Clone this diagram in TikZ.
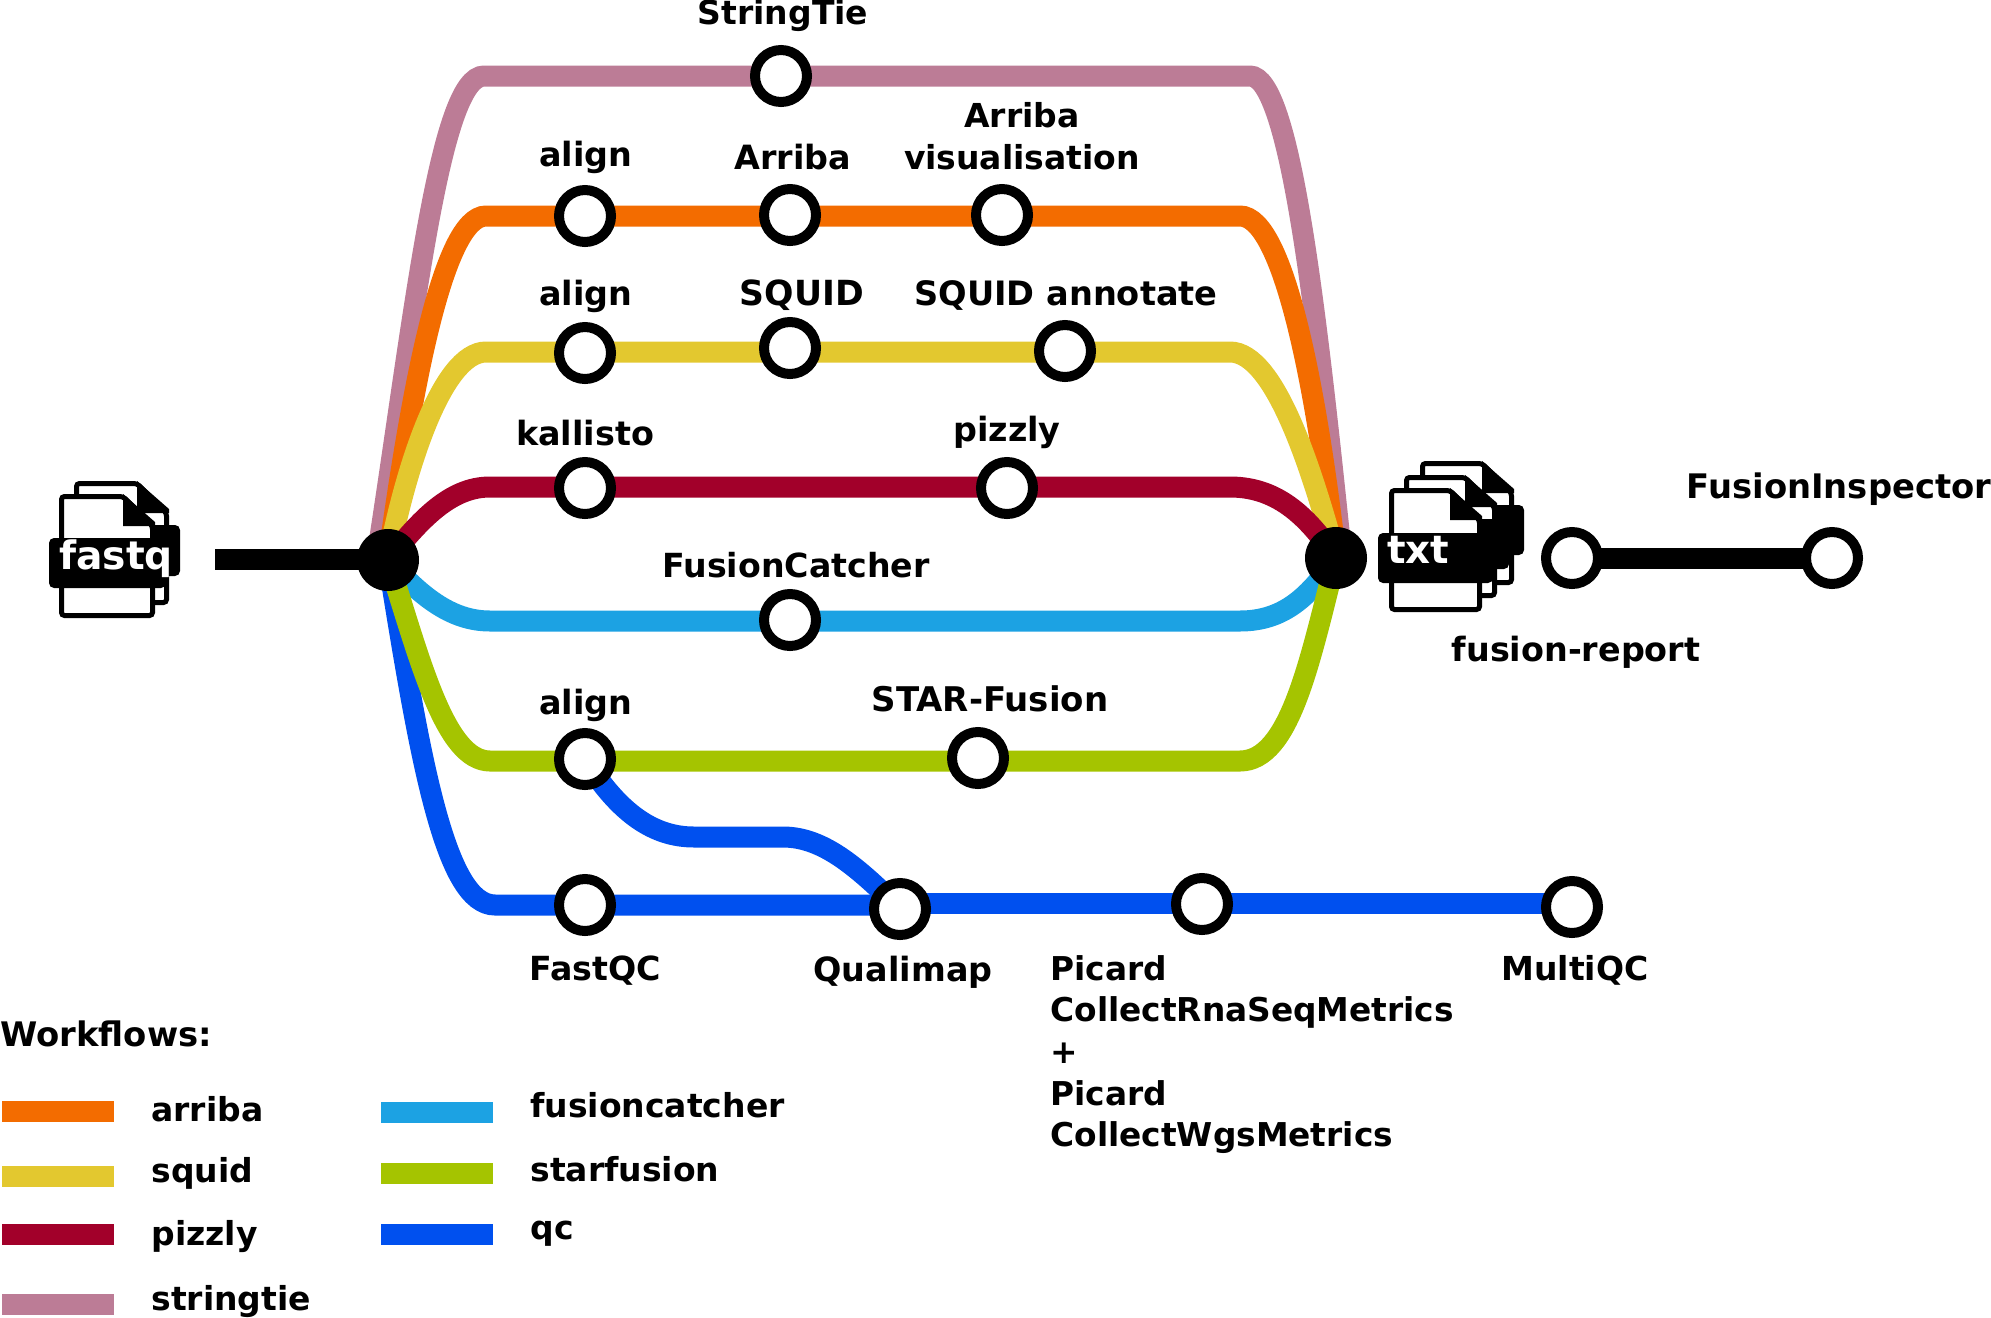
\documentclass[tikz,border=0pt]{standalone}
\usepackage{fontspec}
\setmainfont{DejaVu Sans}
\pgfdeclarelayer{lines}
\pgfsetlayers{lines,main}
\definecolor{cstring}{HTML}{BC7C96}
\definecolor{carriba}{HTML}{F36C00}
\definecolor{csquid}{HTML}{E3C82F}
\definecolor{cpizzly}{HTML}{A2002A}
\definecolor{cfc}{HTML}{1CA2E3}
\definecolor{cstar}{HTML}{A5C400}
\definecolor{cqc}{HTML}{0050EF}
\newcommand{\docpage}[5]{% name, left, top, right, bottom (outer)
  \coordinate (#1) at (#2,#3);
  \draw[pageline] (#2+2.5,#3+2.5) -- (#4-32,#3+2.5) -- (#4-2.5,#3+32) -- (#4-2.5,#5-2.5) -- (#2+2.5,#5-2.5) -- cycle;
  \fill (#4-32,#3) -- (#4,#3+28) -- (#4,#3+32) -- (#4-32,#3+32) -- cycle;
}
\tikzset{
  x=0.5pt,y=-0.5pt,
  metro/.style={line width=10.5pt},
  station/.style={circle,draw=black,fill=white,line width=5pt,minimum size=26pt,inner sep=0pt},
  junction/.style={circle,fill=black,minimum size=31pt,inner sep=0pt},
  lbl/.style={font=\fontsize{16.7}{21}\selectfont\bfseries,inner sep=0pt,anchor=base,text=black},
  lblw/.style={lbl,anchor=base west},
  legendlbl/.style={lblw,font=\fontsize{16.5}{21}\selectfont\bfseries},
  filelbl/.style={font=\fontsize{19.4}{21}\selectfont\bfseries,inner sep=0pt,anchor=base west,text=white},
  pageline/.style={draw=black,fill=white,line width=2.5pt,rounded corners=1.5pt},
  band/.style={fill=black,rounded corners=2.5pt},
}
\begin{document}
\begin{tikzpicture}
\useasboundingbox (0,0) rectangle (1991,1317);
% junctions and stations
\node[junction] (jl) at (388,560) {};
\node[junction] (jr) at (1336,558) {};
\coordinate (jlp) at (378,550);
\coordinate (jrp) at (1340,540);
\node[station] (stringtie) at (781,76) {};
\node[station] (align1) at (585,216) {};
\node[station] (arriba) at (790,215) {};
\node[station] (arribavis) at (1002,215) {};
\node[station] (align2) at (585,353) {};
\node[station] (squid) at (790,348) {};
\node[station] (squidann) at (1065,351) {};
\node[station] (kallisto) at (585,488) {};
\node[station] (pizzly) at (1007,488) {};
\node[station] (fcatch) at (790,620) {};
\node[station] (align3) at (585,759) {};
\node[station] (starf) at (978,758) {};
\node[station] (fastqc) at (585,905) {};
\node[station] (qualimap) at (900,909) {};
\node[station] (picard) at (1202,904) {};
\node[station] (multiqc) at (1572,907) {};
\node[station] (freport) at (1572,558) {};
\node[station] (finsp) at (1832,558) {};
\coordinate (bar) at (215,559);
\begin{pgfonlayer}{lines}
\draw[metro,cstring] (jlp) .. controls (415,310) and (440,76) .. (484,76) -- (1250,76) .. controls (1290,76) and (1316,310) .. (jrp);
\draw[metro,carriba] (jl.center) .. controls (410,400) and (442,216) .. (486,216) -- (1240,216) .. controls (1285,216) and (1318,400) .. (jr.center);
\draw[metro,csquid] (jl.center) .. controls (405,470) and (442,352) .. (486,352) -- (1230,352) .. controls (1275,352) and (1312,470) .. (jr.center);
\draw[metro,cpizzly] (jl.center) .. controls (420,520) and (450,487) .. (490,487) -- (1230,487) .. controls (1280,487) and (1310,520) .. (jr.center);
\draw[metro,cfc] (jl.center) .. controls (420,595) and (450,621) .. (490,621) -- (1240,621) .. controls (1285,621) and (1310,595) .. (jr.center);
\draw[metro,cqc] (jl.center) .. controls (420,760) and (445,905) .. (495,905) -- (qualimap.center |- fastqc.center) -- (qualimap.center);
\draw[metro,cqc] (qualimap.center) -- (900,903) -- (1572,903) -- (multiqc.center);
\draw[metro,cqc] (align3.center) .. controls (620,815) and (655,837) .. (694,837) -- (783,837) .. controls (825,837) and (860,870) .. (qualimap.center);
\draw[metro,cstar] (jl.center) .. controls (420,660) and (445,761) .. (490,761) -- (1240,761) .. controls (1290,761) and (1310,660) .. (jr.center);
\draw[metro,black] (bar) -- (jl.center |- bar);
\draw[metro,black] (freport.center) -- (finsp.center);
\end{pgfonlayer}
% labels
\node[lbl,font=\fontsize{16.5}{21}\selectfont\bfseries] (l1) at (783,25) {StringTie};
\node[lbl] (l2) at (586,166) {align};
\node[lbl] (l3) at (793,169) {Arriba};
\node[lbl,align=center,anchor=north,font=\fontsize{16.5}{21}\selectfont\bfseries] (l4) at (1022,102) {Arriba\\visualisation};
\node[lbl] (l5) at (586,305) {align};
\node[lbl,font=\fontsize{17.3}{21}\selectfont\bfseries] (l6) at (802,305) {SQUID};
\node[lbl,font=\fontsize{16.8}{21}\selectfont\bfseries] (l7) at (1066,305) {SQUID annotate};
\node[lbl] (l8) at (585,445) {kallisto};
\node[lbl] (l9) at (1007,441) {pizzly};
\node[lbl,font=\fontsize{16.6}{21}\selectfont\bfseries] (l10) at (796,577) {FusionCatcher};
\node[lbl] (l11) at (586,714) {align};
\node[lbl,font=\fontsize{17}{21}\selectfont\bfseries] (l12) at (990,711) {STAR-Fusion};
\node[lbl,font=\fontsize{16.6}{21}\selectfont\bfseries] (l13) at (595,980) {FastQC};
\node[lbl] (l14) at (903,981) {Qualimap};
\node[lbl,align=left,anchor=north west,font=\fontsize{16.4}{20.8}\selectfont\bfseries] (l15) at (1050,955) {Picard\\CollectRnaSeqMetrics\\+\\Picard\\CollectWgsMetrics};
\node[lbl,font=\fontsize{16.5}{21}\selectfont\bfseries] (l16) at (1575,980) {MultiQC};
\node[lbl] (l17) at (1576,661) {fusion-report};
\node[lbl,font=\fontsize{16.9}{21}\selectfont\bfseries] (l18) at (1839,498) {FusionInspector};
% fastq icon
\docpage{fqb}{74}{481}{169}{605}
\fill[band] (100,525) rectangle (180,576);
\docpage{fqf}{59}{494}{155}{618}
\fill[band] (49,538) rectangle (166,588);
\node[filelbl,font=\fontsize{19.6}{21}\selectfont\bfseries] (fq) at (59,569) {fastq};
% txt icon
\docpage{txa}{1420}{461}{1514}{585}
\fill[band] (1450,505) rectangle (1524,555);
\docpage{txb}{1404}{475}{1497}{598}
\fill[band] (1440,519) rectangle (1509,569);
\docpage{txc}{1389}{488}{1482}{612}
\fill[band] (1378,533) rectangle (1493,583);
\node[filelbl] (tx) at (1387,563) {txt};
% legend
\node[lblw,font=\fontsize{16.9}{21}\selectfont\bfseries] (w) at (0,1046) {Workflows:};
\coordinate (b1a) at (2,1111); \coordinate (b1b) at (114,1111);
\coordinate (b2a) at (2,1176); \coordinate (b2b) at (114,1176);
\coordinate (b3a) at (2,1234); \coordinate (b3b) at (114,1234);
\coordinate (b4a) at (2,1304); \coordinate (b4b) at (114,1304);
\coordinate (b5a) at (381,1112); \coordinate (b5b) at (493,1112);
\coordinate (b6a) at (381,1173); \coordinate (b6b) at (493,1173);
\coordinate (b7a) at (381,1234); \coordinate (b7b) at (493,1234);
\draw[metro,carriba] (b1a) -- (b1b);
\draw[metro,csquid] (b2a) -- (b2b);
\draw[metro,cpizzly] (b3a) -- (b3b);
\draw[metro,cstring] (b4a) -- (b4b);
\draw[metro,cfc] (b5a) -- (b5b);
\draw[metro,cstar] (b6a) -- (b6b);
\draw[metro,cqc] (b7a) -- (b7b);
\node[legendlbl] (t1) at (151,1121) {arriba};
\node[legendlbl] (t2) at (151,1182) {squid};
\node[legendlbl] (t3) at (151,1245) {pizzly};
\node[legendlbl] (t4) at (151,1310) {stringtie};
\node[legendlbl] (t5) at (530,1117) {fusioncatcher};
\node[legendlbl] (t6) at (530,1181) {starfusion};
\node[legendlbl] (t7) at (530,1239) {qc};
\end{tikzpicture}
\end{document}
